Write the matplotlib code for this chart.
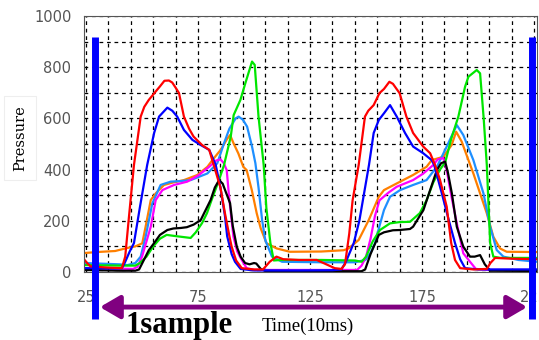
import numpy as np
import matplotlib.pyplot as plt

# dados (tempo em 10ms, pressao)
red_x = [24.1, 25.5, 27, 35, 41, 42.5, 44, 46.4, 49.4, 51, 53, 56, 58, 60, 62, 63.5, 65, 66.5, 68.7, 71, 73, 76.8,
         80, 82, 85, 87, 89, 90, 92, 94.5, 100, 104, 107, 110, 113, 120, 128, 131, 136, 139, 140.6, 142.5, 144,
         146.7, 149.5, 151, 153.4, 156, 158, 160.4, 162, 165, 168, 171, 175.5, 178.6, 180.8, 183, 186, 188, 189.7,
         192, 198, 203.9, 205.5, 207.6, 215, 226.3]
red_y = [50, 35, 22, 17, 15, 60, 200, 418, 607, 645, 672, 704, 725, 747, 748, 740, 720, 699, 607, 560, 529, 496,
         477, 418, 330, 230, 140, 99, 45, 15, 10, 10, 40, 60, 50, 47, 47, 35, 15, 12, 30, 150, 280,
         418, 607, 630, 652, 699, 715, 743, 735, 698, 607, 543, 490, 464, 418, 360, 255, 113, 47,
         15, 10, 12, 35, 55, 52, 50]

blue_x = [24.1, 35, 41, 42.5, 44.5, 46.4, 49, 52.3, 55.4, 57.6, 61.3, 63.5, 65.7, 68.7, 72.5, 76.2, 80, 82.9, 85,
          87, 88, 90, 91.5, 94, 100, 120, 135, 139, 141, 144.5, 147, 151.3, 153.4, 155.7, 158, 160.7, 163.7, 167.4,
          171, 175.5, 179.3, 180.4, 183.8, 187, 189.7, 192, 194.2, 200, 226.3]
blue_y = [15, 14, 14, 40, 80, 113, 250, 418, 543, 607, 642, 630, 607, 555, 516, 496, 477, 418, 330,
          220, 140, 70, 40, 12, 6, 6, 7, 10, 40, 113, 200, 418, 543, 594, 620, 652, 607, 543,
          490, 464, 437, 418, 308, 200, 113, 50, 15, 10, 10]

green_x = [24.1, 40, 47, 49, 52, 55, 58, 61, 64.3, 68, 71.7, 74, 76.8, 79, 81, 84.4, 86.6, 89.6, 90.9, 93.9, 96.1,
           99.1, 100.3, 102, 104.3, 105.5, 107.3, 108.8, 112, 130, 145, 148, 150, 153, 156.2, 160.7, 165, 169.6,
           174, 177, 180, 183, 185.4, 188, 191.2, 194.2, 195.7, 199.4, 200.9, 202.5, 203.9, 205.4, 206.8, 210,
           226.3]
green_y = [27, 25, 25, 35, 60, 100, 130, 145, 141, 137, 133, 155, 191, 230, 280, 360, 418, 529, 613, 672, 737,
           822, 809, 607, 418, 250, 113, 45, 47, 47, 45, 40, 60, 120, 164, 190, 195, 196,
           230, 280, 350, 400, 430, 520, 607, 724, 763, 789, 776, 600, 418, 113, 60, 55,
           55]

black_x = [24.1, 40, 47, 48.7, 51, 53, 55.4, 58, 61.3, 64, 67.3, 70, 73, 76.2, 78, 80.6, 82.5, 84.4, 86, 87.5,
           89.3, 90.5, 92.3, 94, 96, 98, 100, 101, 103, 105, 140, 148, 149.6, 152, 155.7, 158, 162, 165, 169.6,
           171, 175.6, 178.6, 181.6, 183.5, 185.3, 186.5, 188.3, 190.5, 193.4, 196.4, 198.5, 200.9, 203, 205.4,
           226.3]
black_y = [8, 5, 5, 10, 50, 85, 113, 145, 164, 170, 172, 175, 185, 203, 235, 281, 330, 359, 345, 310,
           269, 180, 99, 60, 35, 30, 35, 33, 12, 4, 3, 3, 10, 70, 145, 155, 163, 164, 168,
           177, 242, 320, 398, 425, 431, 390, 307, 177, 99, 60, 60, 66, 30, 5,
           4]

magenta_x = [24.1, 40, 46, 48, 50, 52, 53.9, 56.1, 59.1, 64.3, 70.2, 75.4, 80, 83, 85, 86.5, 87.8, 89, 90.8, 92.5,
             94.5, 96.7, 100, 140, 146, 148, 150, 152, 154, 156, 160, 163.7, 171, 175.6, 180, 182, 184.5, 186, 188,
             190.5, 193.4, 196.4, 199, 205, 226.3]
magenta_y = [15, 13, 12, 20, 60, 120, 177, 281, 320, 340, 353, 379, 411, 435, 440, 425, 398, 280, 138, 80,
             47, 15, 8, 8, 8, 25, 60, 130, 220, 280, 310, 333, 359, 385, 418, 440, 445, 398, 300,
             190, 73, 40, 12, 8, 8]

orange_x = [24.1, 30, 38, 43.5, 47, 50.1, 51.6, 53.9, 56.1, 59.8, 64, 68.7, 74.7, 79.2, 81.4, 85.1, 88, 89.3, 91,
            93, 95.2, 96.7, 99, 101.2, 103, 105.6, 110.1, 116, 130, 140, 142.2, 146.7, 151.2, 155.7, 158, 163.7,
            171, 177, 179.3, 184.5, 188.2, 190.2, 192.7, 195.7, 197.9, 200.9, 203.9, 206.8, 209.8, 212.8, 226.3]
orange_y = [74, 78, 82, 94, 100, 112, 177, 281, 307, 340, 350, 359, 379, 411, 437, 477, 520, 535, 500,
            463, 411, 398, 320, 229, 170, 112, 92, 79, 80, 85, 92, 125, 203, 294, 320, 346,
            379, 411, 437, 450, 496, 548, 509, 437, 385, 307, 229, 138, 92, 79, 78]

lblue_x = [24.1, 40, 43.5, 47, 49.4, 51.6, 54.6, 58.3, 62.8, 67, 71.7, 79.2, 83.6, 86.6, 89, 91.8, 93.1, 95, 96.9,
           99.1, 100.6, 102, 103.6, 105, 108, 112.5, 130, 145, 149.7, 152, 154, 156, 158, 160.7, 165.2, 171, 177,
           181.6, 185.3, 190.5, 193.4, 197.9, 202.4, 205.4, 208.3, 211.3, 218, 226.3]
lblue_y = [35, 30, 27, 35, 60, 138, 268, 340, 353, 355, 359, 385, 425, 503, 560, 600, 607, 595, 568,
           490, 425, 330, 203, 125, 60, 40, 38, 38, 47, 75, 112, 180, 242, 294, 320, 340, 359,
           411, 477, 574, 535, 437, 307, 177, 86, 60, 47, 40]

fig = plt.figure(figsize=(5.39, 3.40), dpi=100)
ax = fig.add_axes([84 / 539, 68 / 340, 453 / 539, 256 / 340])

ax.plot(orange_x, orange_y, color='#ff7f00', lw=1.6)
ax.plot(lblue_x, lblue_y, color='#1e8fff', lw=1.6)
ax.plot(magenta_x, magenta_y, color='#ff00ff', lw=1.6)
ax.plot(green_x, green_y, color='#00e600', lw=1.6)
ax.plot(black_x, black_y, color='black', lw=1.6)
ax.plot(blue_x, blue_y, color='#0000ff', lw=1.6)
ax.plot(red_x, red_y, color='#ff0000', lw=1.6)

ax.set_xlim(24.1, 226.3)
ax.set_ylim(0, 1000)
ax.set_xticks([25, 75, 125, 175, 225])
ax.set_xticks(np.arange(35, 225, 10), minor=True)
ax.set_yticks(np.arange(0, 1001, 200))
ax.set_yticks(np.arange(100, 1000, 200), minor=True)
ax.grid(True, which='both', color='black', linestyle=(0, (3, 3)), lw=0.9)
ax.set_axisbelow(True)
ax.tick_params(which='both', length=0, labelsize=10.5, labelcolor='#555555')
ax.tick_params(axis='x', pad=13)
ax.tick_params(axis='y', pad=9)
for s in ax.spines.values():
    s.set_color('#555555')

# barras azuis que marcam uma amostra
ax.plot([29, 29], [-183, 918], color='#0000ff', lw=5, clip_on=False, zorder=5, solid_capstyle='butt')
ax.plot([224, 224], [-183, 918], color='#0000ff', lw=5, clip_on=False, zorder=5, solid_capstyle='butt')
ax.annotate('', xy=(31.2, -137), xytext=(221.9, -137), annotation_clip=False,
            arrowprops=dict(arrowstyle='<|-|>,head_length=1.2,head_width=0.7', color='#800080', lw=3.5,
                            shrinkA=0, shrinkB=0))

fig.text(125 / 539, 1 - 325 / 340, '1sample', fontsize=22, fontweight='bold', family='Liberation Serif',
         va='center', ha='left')
fig.text(262 / 539, 1 - 326 / 340, 'Time(10ms)', fontsize=13.5, family='Liberation Serif', va='center', ha='left')
fig.text(20 / 539, 1 - 138 / 340, 'Pressure', fontsize=10.5, family='DejaVu Serif', rotation=90,
         va='center', ha='center',
         bbox=dict(boxstyle='square,pad=0.6', fc='white', ec='#eeeeee', lw=0.8))

fig.savefig('out.png', dpi=100)
